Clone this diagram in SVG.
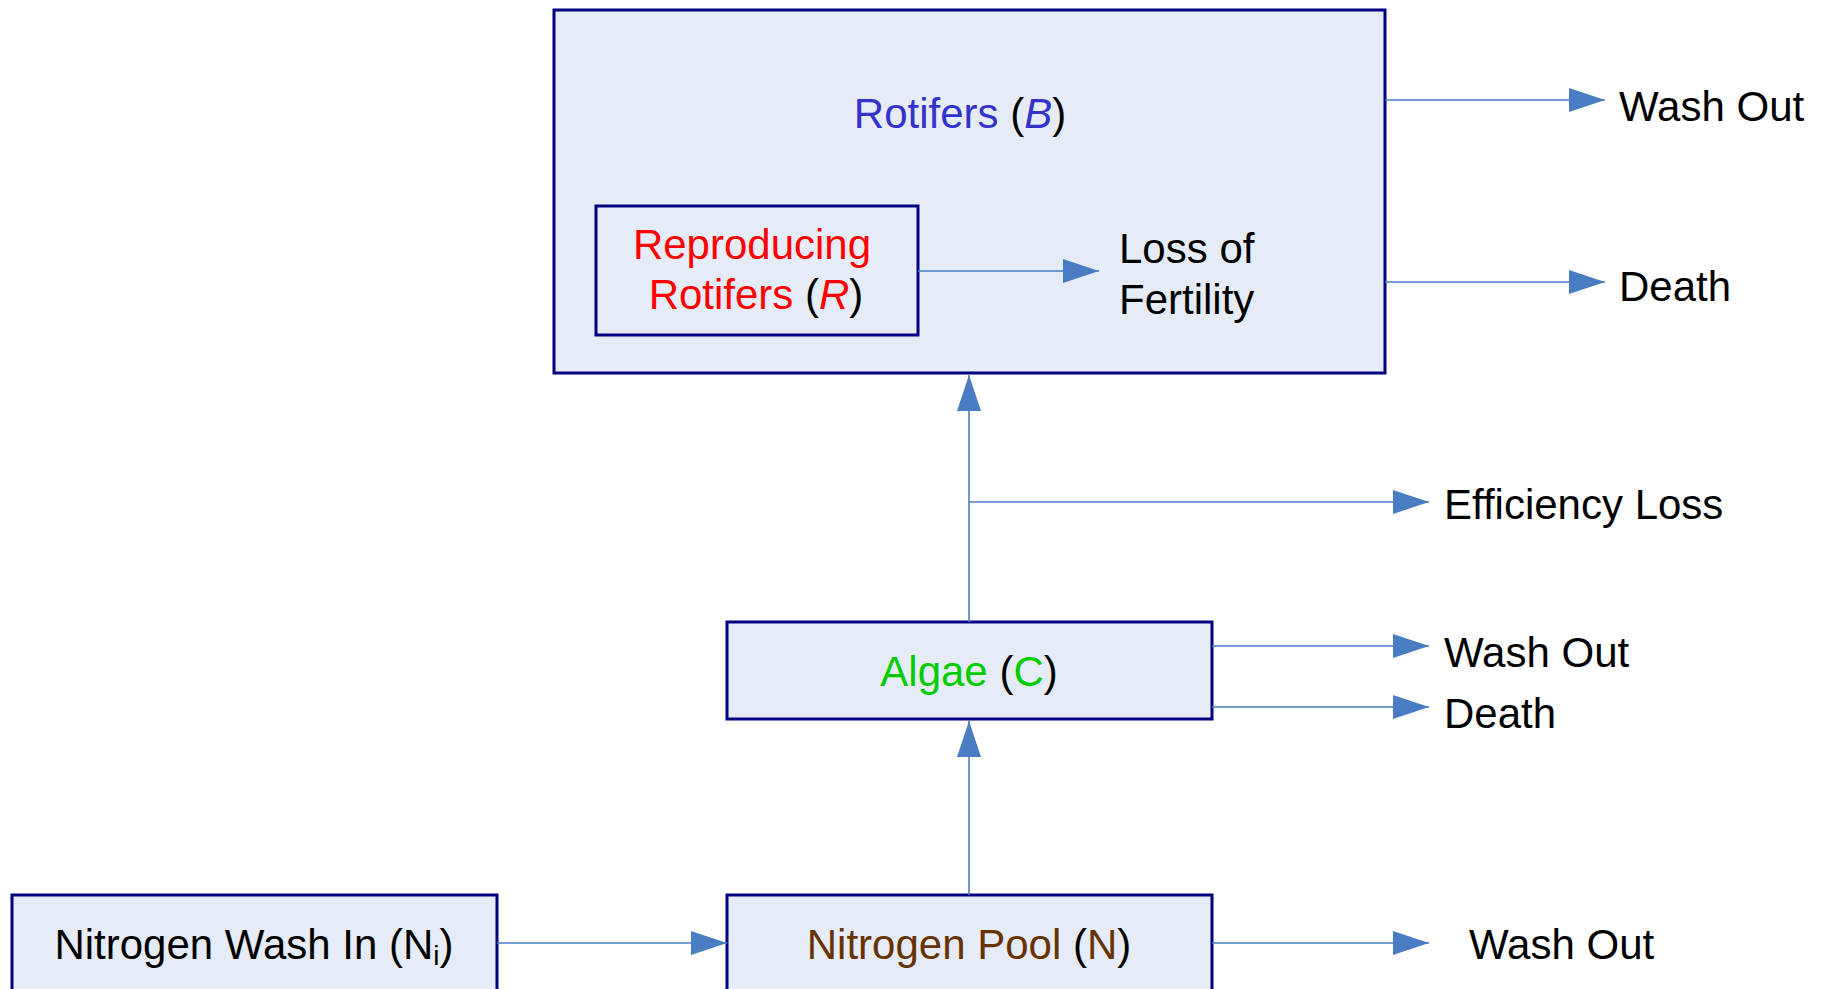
<svg xmlns="http://www.w3.org/2000/svg" width="1829" height="989" viewBox="0 0 1829 989">
<style>
.box{fill:#E6ECF7;stroke:#000080;stroke-width:3}
.t{font-family:"Liberation Sans",Arial,sans-serif;font-size:42px;fill:#000}
.c{stroke:#4A7CC4;stroke-width:1.6;fill:none;marker-end:url(#ah)}
</style>
<defs>
<marker id="ah" markerUnits="userSpaceOnUse" markerWidth="36" markerHeight="24" viewBox="0 0 36 24" refX="36" refY="12" orient="auto">
<path d="M0,0 L36,12 L0,24 Z" fill="#4A7CC4"/>
</marker>
</defs>
<rect width="1829" height="989" fill="#fff"/>
<g id="rotifers">
<rect class="box" x="554" y="10" width="831" height="363"/>
<text class="t" x="960" y="128" text-anchor="middle"><tspan fill="#3333CC">Rotifers </tspan>(<tspan fill="#3333CC" font-style="italic">B</tspan>)</text>
</g>
<g id="reproducing">
<rect class="box" x="596" y="206" width="322" height="129"/>
<text class="t" x="752" y="259" text-anchor="middle"><tspan fill="#FF0000">Reproducing</tspan></text>
<text class="t" x="756" y="309" text-anchor="middle"><tspan fill="#FF0000">Rotifers </tspan>(<tspan fill="#FF0000" font-style="italic">R</tspan>)</text>
</g>
<g id="algae">
<rect class="box" x="727" y="622" width="485" height="97"/>
<text class="t" x="969" y="686" text-anchor="middle"><tspan fill="#00CC00">Algae </tspan>(<tspan fill="#00CC00">C</tspan>)</text>
</g>
<g id="washin">
<rect class="box" x="12" y="895" width="485" height="120"/>
<text class="t" x="254" y="959" text-anchor="middle">Nitrogen Wash In (N<tspan font-size="28" dy="6">i</tspan><tspan dy="-6">)</tspan></text>
</g>
<g id="pool">
<rect class="box" x="727" y="895" width="485" height="120"/>
<text class="t" x="969" y="959" text-anchor="middle"><tspan fill="#663300">Nitrogen Pool </tspan>(<tspan fill="#663300">N</tspan>)</text>
</g>
<g id="labels">
<text class="t" x="1119" y="263">Loss of</text>
<text class="t" x="1119" y="314">Fertility</text>
<text class="t" x="1619" y="121">Wash Out</text>
<text class="t" x="1619" y="301">Death</text>
<text class="t" x="1444" y="519">Efficiency Loss</text>
<text class="t" x="1444" y="667">Wash Out</text>
<text class="t" x="1444" y="728">Death</text>
<text class="t" x="1469" y="959">Wash Out</text>
</g>
<g id="connectors">
<line class="c" x1="918" y1="271" x2="1099" y2="271"/>
<line class="c" x1="1385" y1="100" x2="1605" y2="100"/>
<line class="c" x1="1385" y1="282" x2="1605" y2="282"/>
<line class="c" x1="969" y1="622" x2="969" y2="375"/>
<line class="c" x1="969" y1="502" x2="1429" y2="502"/>
<line class="c" x1="1212" y1="646" x2="1429" y2="646"/>
<line class="c" x1="1212" y1="707" x2="1429" y2="707"/>
<line class="c" x1="969" y1="895" x2="969" y2="721"/>
<line class="c" x1="497" y1="943" x2="727" y2="943"/>
<line class="c" x1="1212" y1="943" x2="1429" y2="943"/>
</g>
</svg>
